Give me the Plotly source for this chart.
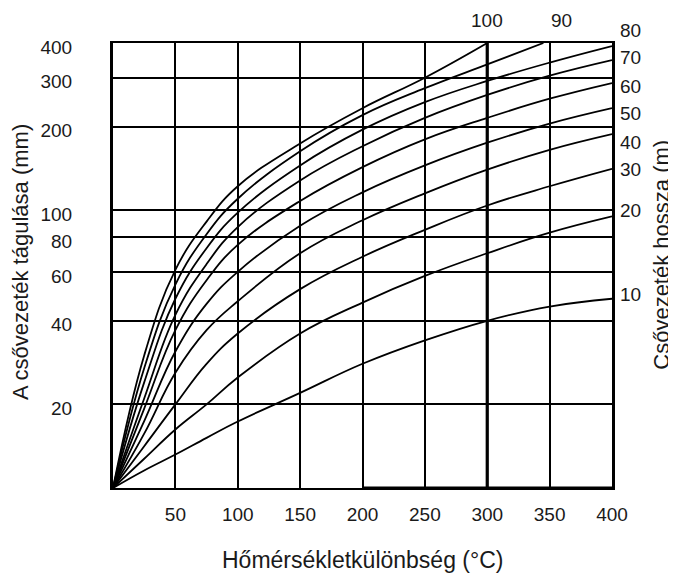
import numpy as np
import plotly.graph_objects as go

# ---------------- data ----------------
dt_full = [0, 25, 50, 75, 100, 150, 200, 250, 300, 350, 400]
dt_90 = [0, 25, 50, 75, 100, 150, 200, 250, 300, 345]
dt_100 = [0, 25, 50, 75, 100, 150, 200, 250, 300]

exp_10 = [0, 4.2, 8, 12, 15.9, 22, 28, 34, 40, 45, 48]
exp_20 = [0, 7, 14, 20, 25, 36, 46.5, 58, 70, 83, 95]
exp_30 = [0, 10, 20, 28, 36, 52, 68, 85, 104, 122, 141]
exp_40 = [0, 13, 26, 37, 47, 70, 92, 115, 140, 165, 188]
exp_50 = [0, 16, 31, 46, 60, 88, 116, 145, 175, 205, 233]
exp_60 = [0, 19, 37, 56, 75, 108, 143, 180, 215, 252, 287]
exp_70 = [0, 21, 42, 64, 87, 128, 170, 215, 260, 305, 347]
exp_80 = [0, 24, 48, 73, 98, 145, 195, 245, 292, 340, 390]
exp_90 = [0, 27, 54, 82, 110, 163, 220, 275, 335, 400]
exp_100 = [0, 30, 61, 91, 122, 174, 233, 300, 400]

lengths = [10, 20, 30, 40, 50, 60, 70, 80, 90, 100]

y_ticks = [20, 40, 60, 80, 100, 200, 300, 400]
x_ticks = [50, 100, 150, 200, 250, 300, 350, 400]

x_title = "Hőmérsékletkülönbség (°C)"
y_title = "A csővezeték tágulása (mm)"
y2_title = "Csővezeték hossza (m)"


# y scale of the chart: linear from 0 to 20 mm, logarithmic above 20 mm
def to_scale(v):
    v = np.asarray(v, dtype=float)
    return np.where(v <= 20, v / 20.0, 1 + np.log2(np.maximum(v, 20) / 20.0))


series = [
    (10, dt_full, exp_10), (20, dt_full, exp_20), (30, dt_full, exp_30),
    (40, dt_full, exp_40), (50, dt_full, exp_50), (60, dt_full, exp_60),
    (70, dt_full, exp_70), (80, dt_full, exp_80), (90, dt_90, exp_90),
    (100, dt_100, exp_100),
]

FONT = "Liberation Sans, Arial, sans-serif"
TXT = "#1a1a1a"

fig = go.Figure()
for L, xs, ys in series:
    fig.add_trace(go.Scatter(
        x=xs, y=to_scale(ys), mode="lines", name=f"{L} m",
        line=dict(color="black", width=1.8, shape="spline", smoothing=1.2),
        hoverinfo="skip", showlegend=False,
    ))

ymax = float(to_scale(400))

# curve labels (small vertical nudges as in the original)
label_shift = {80: 16, 70: 3, 60: -3, 50: -5, 40: -8, 30: -1, 20: 6, 10: 4}
for L, xs, ys in series:
    if L <= 80:
        fig.add_annotation(x=xs[-1], y=float(to_scale(ys[-1])), xref="x", yref="y",
                           text=str(L), showarrow=False, xanchor="left",
                           xshift=6, yshift=label_shift.get(L, 0),
                           font=dict(family=FONT, size=19, color=TXT))
    else:
        fig.add_annotation(x=xs[-1], y=ymax, xref="x", yref="y",
                           text=str(L), showarrow=False, yanchor="bottom",
                           xshift=0 if L == 100 else 18, yshift=10,
                           font=dict(family=FONT, size=19, color=TXT))

# axis titles
fig.add_annotation(x=0.5, y=-0.162, xref="paper", yref="paper", text=x_title,
                   showarrow=False, xanchor="center", yanchor="middle",
                   font=dict(family=FONT, size=23, color=TXT))
fig.add_annotation(x=-0.184, y=0.508, xref="paper", yref="paper", text=y_title,
                   showarrow=False, textangle=-90, xanchor="center", yanchor="middle",
                   font=dict(family=FONT, size=22, color=TXT))
fig.add_annotation(x=1.1, y=0.524, xref="paper", yref="paper", text=y2_title,
                   showarrow=False, textangle=-90, xanchor="center", yanchor="middle",
                   font=dict(family=FONT, size=22, color=TXT))

# heavier lines seen in the chart
fig.add_shape(type="line", x0=300, x1=300, y0=0, y1=ymax, xref="x", yref="y",
              line=dict(color="black", width=3.2))
fig.add_shape(type="line", x0=200, x1=400, y0=0, y1=0, xref="x", yref="y",
              line=dict(color="black", width=3.2))

fig.update_xaxes(
    range=[0, 400], tickvals=x_ticks, ticktext=[str(v) for v in x_ticks],
    showgrid=True, gridcolor="black", gridwidth=2, zeroline=False,
    showline=True, mirror=True, linecolor="black", linewidth=2.2,
    ticks="", ticklabelstandoff=8,
    tickfont=dict(family=FONT, size=19, color=TXT),
)
fig.update_yaxes(
    range=[0, ymax], tickvals=list(to_scale(y_ticks)),
    ticktext=[str(v) for v in y_ticks],
    showgrid=True, gridcolor="black", gridwidth=2, zeroline=False,
    showline=True, mirror=True, linecolor="black", linewidth=3,
    ticks="", ticklabelstandoff=34, ticklabelshift=4,
    tickfont=dict(family=FONT, size=19, color=TXT),
)

# the page body keeps its default 8 px margin, so the figure is 8 px smaller
fig.update_layout(
    width=668, height=571,
    margin=dict(l=105, r=64, t=35, b=91),
    paper_bgcolor="white", plot_bgcolor="white",
    showlegend=False,
)

fig.write_html("out.html")
